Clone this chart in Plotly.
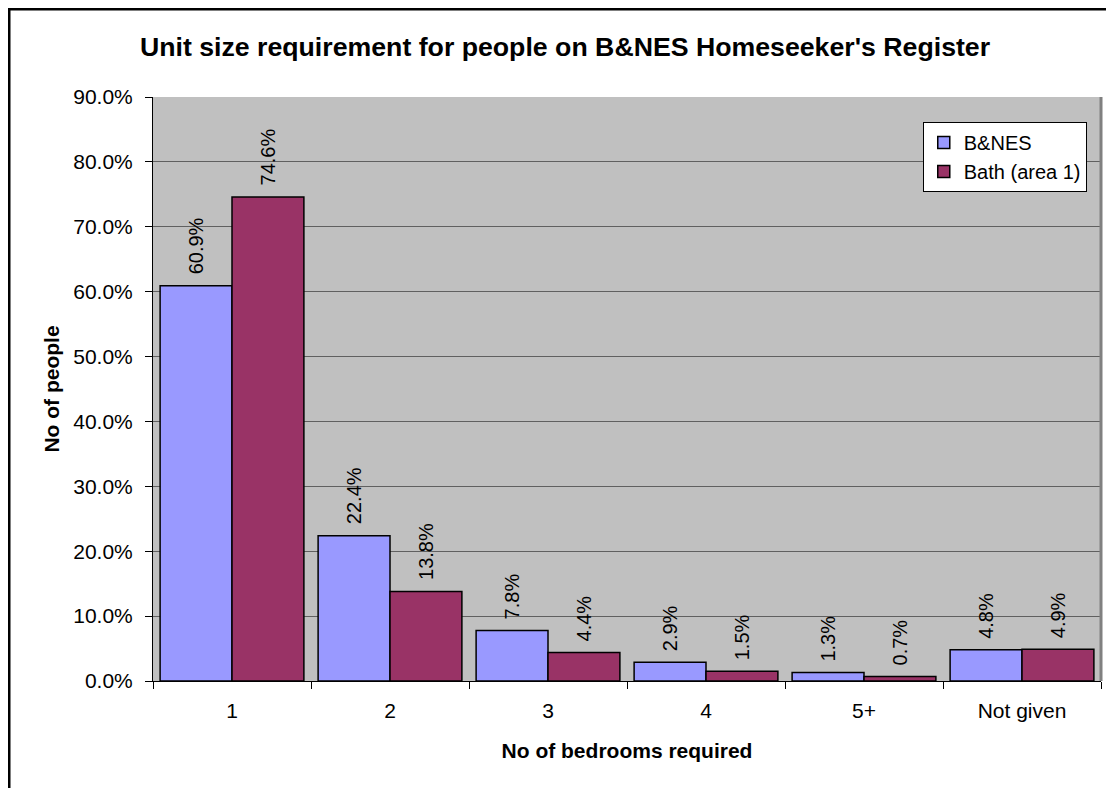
import plotly.graph_objects as go

categories = ["1", "2", "3", "4", "5+", "Not given"]
bnes = [0.609, 0.224, 0.078, 0.029, 0.013, 0.048]
bath = [0.746, 0.138, 0.044, 0.015, 0.007, 0.049]
series_names = ["B&NES", "Bath (area 1)"]
colors = ["#9999FF", "#993366"]

FONT = "Arial, Liberation Sans, sans-serif"

fig = go.Figure()
for name, vals, col in zip(series_names, [bnes, bath], colors):
    fig.add_trace(go.Bar(
        x=categories, y=vals, name=name,
        marker=dict(color=col, line=dict(color="black", width=1.5)),
        cliponaxis=False,
    ))

# value labels (rotated) above bars
for vals, shift in zip([bnes, bath], [-36, 36]):
    for i, v in enumerate(vals):
        fig.add_annotation(x=i, y=v, xref="x", yref="y", text=f"{v*100:.1f}%",
                           textangle=-90, showarrow=False, xshift=shift, yshift=9,
                           xanchor="center", yanchor="bottom",
                           font=dict(family=FONT, size=20, color="black"))

fig.update_layout(
    width=1114, height=788,
    margin=dict(l=145, r=21, t=89, b=115),
    paper_bgcolor="white", plot_bgcolor="#C0C0C0",
    barmode="group", bargap=0.09, bargroupgap=0,
    font=dict(family=FONT, size=20, color="black"),
    title=dict(text="<b>Unit size requirement for people on B&NES Homeseeker's Register</b>",
               x=0.5, xanchor="center", y=1 - 39 / 788, yanchor="middle",
               font=dict(size=26.7, family=FONT, color="black")),
    legend=dict(x=0.812, y=0.957, xanchor="left", yanchor="top",
                bgcolor="white", bordercolor="black", borderwidth=1,
                font=dict(size=20, family=FONT), traceorder="normal"),
    showlegend=True,
)
fig.update_yaxes(range=[0, 0.9], dtick=0.1, tickformat=".1%",
                 showgrid=True, gridcolor="#606060", gridwidth=1,
                 ticks="outside", ticklen=7, tickcolor="black",
                 showline=True, linecolor="black", linewidth=1,
                 zeroline=False, ticklabelstandoff=8,
                 title=dict(text="<b>No of people</b>", font=dict(size=21), standoff=7),
                 tickfont=dict(size=21))
fig.update_xaxes(type="category", ticks="outside", tickson="boundaries", ticklen=7,
                 tickcolor="black", showline=True, linecolor="black", linewidth=1,
                 ticklabelstandoff=11,
                 title=dict(text="<b>No of bedrooms required</b>", font=dict(size=21), standoff=22),
                 tickfont=dict(size=21))
# right border of plot area
fig.add_shape(type="line", xref="paper", yref="paper", x0=1, x1=1, y0=0, y1=1,
              line=dict(color="#808080", width=3))
# outer chart border
fig.add_shape(type="rect", xref="paper", yref="paper",
              x0=(1 - 145) / 948, x1=1.1, y0=1 + (89 - 1) / 584, y1=-0.3,
              line=dict(color="black", width=3), layer="below")
fig.write_html("out.html")
